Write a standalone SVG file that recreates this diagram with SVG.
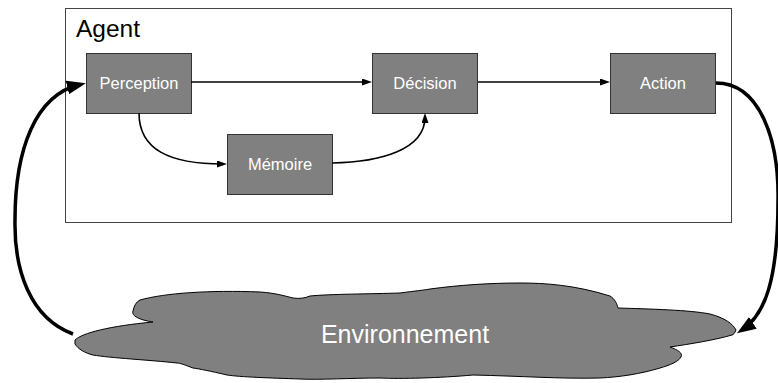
<svg xmlns="http://www.w3.org/2000/svg" width="778" height="383" viewBox="0 0 778 383">
  <style>
    .box { fill: #808080; stroke: #333333; stroke-width: 1; }
    .lbl { font-family: "Liberation Sans", Arial, sans-serif; font-size: 16.5px; fill: #ffffff; text-anchor: middle; }
    .thin { fill: none; stroke: #000000; stroke-width: 1.6; }
    .thick { fill: none; stroke: #000000; stroke-width: 3.5; }
  </style>
  <defs>
    <marker id="ah" markerUnits="userSpaceOnUse" markerWidth="10" markerHeight="7" refX="6" refY="3.5" orient="auto">
      <path d="M0,0 L10,3.5 L0,7 Z" fill="#000"/>
    </marker>
    <marker id="ahBig" markerUnits="userSpaceOnUse" markerWidth="19" markerHeight="14" refX="13" refY="7" orient="auto">
      <path d="M0,0 L19,7 L0,14 Z" fill="#000"/>
    </marker>
  </defs>
  <g id="agent">
    <rect x="65.5" y="8.5" width="666" height="214" fill="#ffffff" stroke="#444444" stroke-width="1"/>
    <text x="76" y="37" font-family="Liberation Sans, Arial, sans-serif" font-size="24.5" fill="#000">Agent</text>
  </g>
  <g id="environnement">
    <path d="M75,340 C82,333 110,326 153,322 C140,320 131,316 133,311 C134,306 136,302 140,300 C165,293 210,290 260,292 C275,293 285,296 293,298 C300,299 305,298 310,296 C330,294 370,294 400,293 C415,291 425,290 430,289 C460,285 490,283 520,283 C545,283 575,285 610,296 C615,299 617,304 618,308 C650,309 690,310 710,314 C725,318 733,324 736,330 C735,333 733,335 732,335 C715,340 690,344 670,347 C678,350 683,353 681,357 C678,362 670,365 660,368 C640,374 620,377 600,378 C560,379 520,376 473,375 C440,378 400,379 380,378 C350,378 320,380 300,379 C270,378 240,377 227,375 C210,371 200,369 193,368 C185,365 180,363 177,363 C150,360 110,358 93,355 C85,353 78,349 75,344 Z" fill="#808080" stroke="#000000" stroke-width="1"/>
    <text x="405" y="343" font-family="Liberation Sans, Arial, sans-serif" font-size="25" fill="#ffffff" text-anchor="middle">Environnement</text>
  </g>
  <g id="perception">
    <rect class="box" x="86.5" y="53.5" width="105" height="60"/>
    <text class="lbl" x="139" y="89">Perception</text>
  </g>
  <g id="decision">
    <rect class="box" x="372.5" y="53.5" width="105" height="60"/>
    <text class="lbl" x="425" y="89">Décision</text>
  </g>
  <g id="action">
    <rect class="box" x="610.5" y="53.5" width="105" height="60"/>
    <text class="lbl" x="663" y="89">Action</text>
  </g>
  <g id="memoire">
    <rect class="box" x="227.5" y="134.5" width="105" height="60"/>
    <text class="lbl" x="280" y="170">Mémoire</text>
  </g>
  <g id="connectors">
    <path class="thin" d="M191,82 L368,82" marker-end="url(#ah)"/>
    <path class="thin" d="M478,82 L606,82" marker-end="url(#ah)"/>
    <path class="thin" d="M139,113 C139,150 170,164 223,164" marker-end="url(#ah)"/>
    <path class="thin" d="M332,163 C380,162 425,150 425,117" marker-end="url(#ah)"/>
    <path class="thick" d="M716,83 C760,83 779,140 778,200 C778,280 765,315 742,330" marker-end="url(#ahBig)"/>
    <path class="thick" d="M73,334 C30,318 14,270 15,220 C15,150 35,95 80,84.5" marker-end="url(#ahBig)"/>
  </g>
</svg>
